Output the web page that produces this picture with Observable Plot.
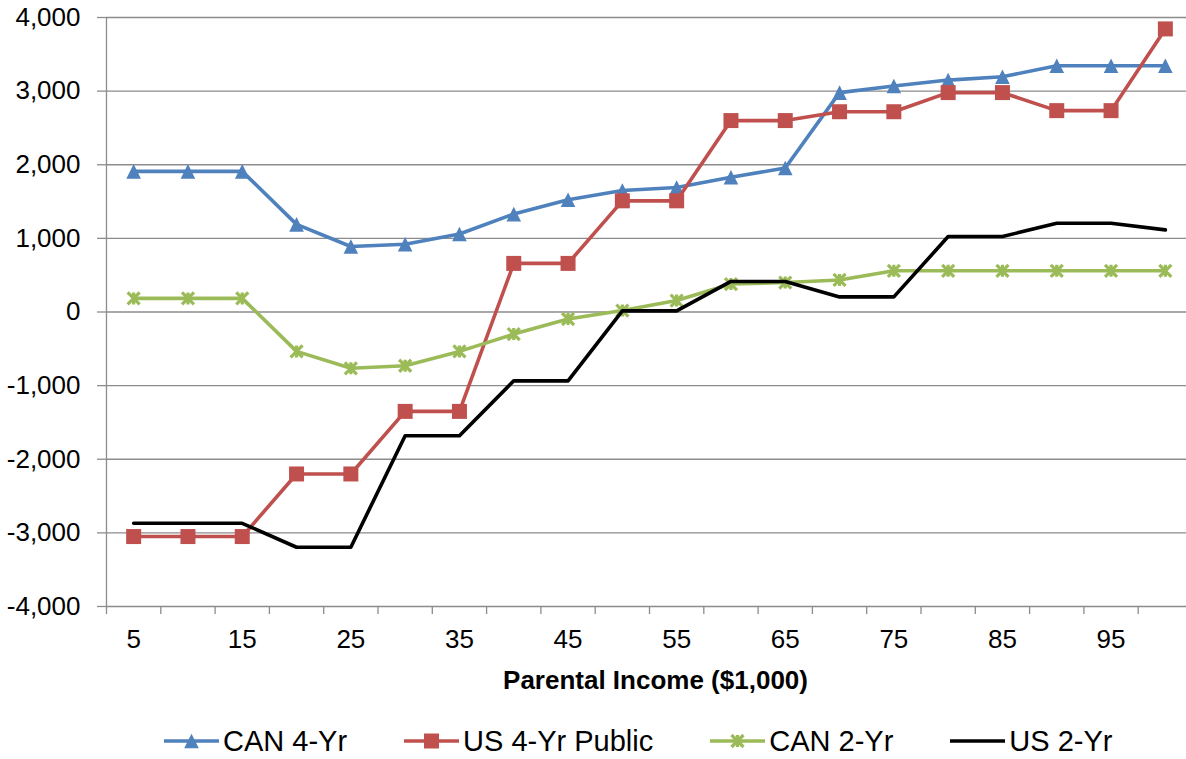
<!DOCTYPE html>
<html>
<head>
<meta charset="utf-8">
<script src="https://cdn.jsdelivr.net/npm/d3@7"></script>
<script src="https://cdn.jsdelivr.net/npm/@observablehq/plot@0.6"></script>
<style>
  html, body { margin: 0; padding: 0; background: #fff; overflow: hidden; }
  #chart svg { display: block; }
  .legend {
    display: flex; align-items: center;
    height: 40px; padding-top: 9px; margin-left: 164px;
    font: 29px "Liberation Sans", Arial, sans-serif; color: #000;
  }
  .legend .item { display: flex; align-items: center; margin-right: 57px; white-space: nowrap; }
  .legend svg { margin-right: 4px; display: block; }
</style>
</head>
<body>
<div id="chart"></div>
<div class="legend" id="legend"></div>
<script>
// Parental income categories ($1,000)
const income = [5, 10, 15, 20, 25, 30, 35, 40, 45, 50, 55, 60, 65, 70, 75, 80, 85, 90, 95, 100];

// Series values
const can4Yr   = [1910, 1910, 1910, 1190, 890, 920, 1060, 1330, 1525, 1650, 1690, 1830, 1955, 2980, 3070, 3150, 3195, 3345, 3345, 3345];
const us4YrPub = [-3050, -3050, -3050, -2200, -2200, -1350, -1350, 660, 660, 1510, 1510, 2600, 2600, 2720, 2720, 2980, 2980, 2735, 2735, 3845];
const can2Yr   = [185, 185, 185, -535, -765, -730, -535, -300, -95, 20, 155, 380, 400, 435, 560, 560, 560, 560, 560, 560];
const us2Yr    = [-2870, -2870, -2870, -3195, -3195, -1680, -1680, -935, -935, 15, 15, 415, 415, 205, 205, 1025, 1025, 1205, 1205, 1115];

const seriesNames = ["CAN 4-Yr", "US 4-Yr Public", "CAN 2-Yr", "US 2-Yr"];

// Tick values
const yTicks = [-4000, -3000, -2000, -1000, 0, 1000, 2000, 3000, 4000];
const xTickLabels = [5, 15, 25, 35, 45, 55, 65, 75, 85, 95];

// Category boundaries (tick marks sit between categories)
const xBoundaries = [...income.map(v => v - 2.5), income[income.length - 1] + 2.5];

// Marker shapes
const triangleSym = {
  draw(ctx, size) {
    const r = Math.sqrt(size / Math.PI);
    ctx.moveTo(0, -r); ctx.lineTo(r, r); ctx.lineTo(-r, r); ctx.closePath();
  }
};
const squareSym = {
  draw(ctx, size) {
    const r = Math.sqrt(size / Math.PI);
    ctx.rect(-r, -r, 2 * r, 2 * r);
  }
};
const starSym = {
  draw(ctx, size) {
    const r = Math.sqrt(size / Math.PI);
    ctx.moveTo(-r, -r); ctx.lineTo(r, r);
    ctx.moveTo(-r, r); ctx.lineTo(r, -r);
    ctx.moveTo(0, -r); ctx.lineTo(0, r);
  }
};

const series = [
  {name: seriesNames[0], values: can4Yr,   color: "#4F81BD", symbol: triangleSym, r: 7.3, filled: true},
  {name: seriesNames[1], values: us4YrPub, color: "#C0504D", symbol: squareSym,   r: 7.5, filled: true},
  {name: seriesNames[2], values: can2Yr,   color: "#9BBB59", symbol: starSym,     r: 6,   filled: false},
  {name: seriesNames[3], values: us2Yr,    color: "#000000", symbol: null,        r: 0,   filled: false}
];

const grid = "#8C8C8C";
const font = '"Liberation Sans", Arial, sans-serif';

const seriesMarks = series.flatMap(s => {
  const rows = income.map((x, i) => ({x, y: s.values[i]}));
  const marks = [Plot.line(rows, {x: "x", y: "y", stroke: s.color, strokeWidth: 3.6})];
  if (s.symbol) {
    marks.push(Plot.dot(rows, s.filled
      ? {x: "x", y: "y", symbol: s.symbol, r: s.r, fill: s.color, stroke: "none"}
      : {x: "x", y: "y", symbol: s.symbol, r: s.r, fill: "none", stroke: s.color, strokeWidth: 3.2}));
  }
  return marks;
});

const chart = Plot.plot({
  width: 1186,
  height: 712,
  marginLeft: 106,
  marginRight: -6,
  marginTop: 17,
  marginBottom: 106,
  style: {fontFamily: font, fontSize: "26px", background: "#fff", color: "#000", overflow: "hidden"},
  x: {type: "linear", domain: [2.5, 102.5]},
  y: {domain: [-4000, 4000]},
  marks: [
    Plot.ruleY(yTicks, {stroke: grid, strokeWidth: 1.3}),
    Plot.ruleX([2.5], {stroke: grid, strokeWidth: 1.3}),
    Plot.axisY({ticks: yTicks, tickSize: 9, tickPadding: 17, stroke: grid, strokeWidth: 1.3,
                fill: "#000", fontSize: 26, label: null,
                tickFormat: d => d.toLocaleString("en-US")}),
    Plot.axisX({ticks: xBoundaries, tickSize: 8, stroke: grid, strokeWidth: 1.3,
                tickFormat: () => "", label: null}),
    Plot.axisX({ticks: xTickLabels, tickSize: 0, tickPadding: 23, fill: "#000",
                fontSize: 26, label: null, tickFormat: d => String(d)}),
    Plot.text(["Parental Income ($1,000)"], {text: d => d, frameAnchor: "bottom", dx: 6, dy: 82,
                fontWeight: "bold", fontSize: 26, fill: "#000"}),
    ...seriesMarks
  ]
});
document.getElementById("chart").appendChild(chart);

// Legend below the chart
const legend = d3.select("#legend");
for (const s of series) {
  const item = legend.append("div").attr("class", "item");
  const sw = item.append("svg").attr("width", 55).attr("height", 22);
  sw.append("line").attr("x1", 0).attr("x2", 55).attr("y1", 11).attr("y2", 11)
    .attr("stroke", s.color).attr("stroke-width", 3.6);
  if (s.symbol) {
    const p = d3.path();
    s.symbol.draw(p, s.r * s.r * Math.PI);
    const path = sw.append("path").attr("d", p.toString()).attr("transform", "translate(27.5,11)");
    if (s.filled) path.attr("fill", s.color);
    else path.attr("fill", "none").attr("stroke", s.color).attr("stroke-width", 3.2);
  }
  item.append("span").text(s.name);
}
</script>
</body>
</html>
